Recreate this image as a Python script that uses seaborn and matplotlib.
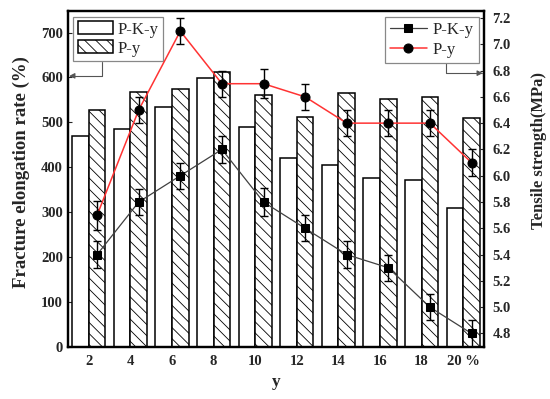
import matplotlib
matplotlib.use("Agg")
import matplotlib.pyplot as plt
import numpy as np
import pandas as pd
import seaborn as sns


Y_LABELS = ["2", "4", "6", "8", "10", "12", "14", "16", "18", "20 %"]
PKY_ELONG = [470, 485, 534, 598, 490, 420, 405, 377, 372, 309]
PY_ELONG = [528, 568, 575, 613, 560, 512, 565, 553, 556, 510]
PKY_TS = [5.4, 5.8, 6.0, 6.2, 5.8, 5.6, 5.4, 5.3, 5.0, 4.8]
PY_TS = [5.7, 6.5, 7.1, 6.7, 6.7, 6.6, 6.4, 6.4, 6.4, 6.1]
PKY_ERR = [0.10, 0.10, 0.10, 0.10, 0.11, 0.10, 0.10, 0.10, 0.10, 0.10]
PY_ERR = [0.11, 0.10, 0.10, 0.10, 0.11, 0.10, 0.10, 0.10, 0.10, 0.10]
SERIES = ["P-K-y", "P-y"]


def main() -> None:
    sns.set_style("white")
    plt.rcParams["font.family"] = ["Liberation Serif", "DejaVu Serif"]
    plt.rcParams["hatch.linewidth"] = 0.6

    bars = pd.DataFrame({
        "y": Y_LABELS * 2,
        "rate": PKY_ELONG + PY_ELONG,
        "series": [SERIES[0]] * len(Y_LABELS) + [SERIES[1]] * len(Y_LABELS),
    })

    fig, ax = plt.subplots(figsize=(5.5, 3.99), dpi=100)
    fig.subplots_adjust(left=0.1236, right=0.88, top=0.9724, bottom=0.1303)

    sns.barplot(data=bars, x="y", y="rate", hue="series",
                palette=["white", "white"], edgecolor="black", linewidth=1.1,
                width=0.8, ax=ax, legend=False)
    for patch in ax.containers[1]:
        patch.set_hatch("\\\\\\")
    ax.set_xlim(-0.5, 9.5)
    ax.set_ylim(0, 748)
    ax.set_yticks(np.arange(0, 701, 100))
    ax.set_xlabel("y", fontsize=12.5, fontweight="bold", labelpad=4)
    ax.set_ylabel("Fracture elongation rate (%)", fontsize=13.5, fontweight="bold")
    ax.yaxis.set_label_coords(-0.092, 0.52)
    ax.tick_params(axis="x", length=0, labelsize=10.5, pad=6)
    ax.tick_params(axis="y", direction="in", length=3, labelsize=10.5)
    for lab in ax.get_xticklabels() + ax.get_yticklabels():
        lab.set_fontweight("bold")

    leg1 = ax.legend(handles=list(ax.containers), labels=SERIES, loc="upper left",
                     bbox_to_anchor=(0.005, 0.992), fontsize=12, fancybox=False,
                     edgecolor="#888888", framealpha=1, handlelength=2.1,
                     handleheight=0.85, handletextpad=0.3, borderpad=0.25,
                     labelspacing=0.15, borderaxespad=0.2)
    leg1.get_frame().set_linewidth(0.9)

    ax2 = ax.twinx()
    pos = np.arange(len(Y_LABELS)) + 0.2
    sns.lineplot(x=pos, y=PKY_TS, color="#404040", linewidth=0.9, marker="s",
                 markersize=5.2, markerfacecolor="black", markeredgecolor="black",
                 label=SERIES[0], ax=ax2)
    sns.lineplot(x=pos, y=PY_TS, color="#ff3333", linewidth=1.1, marker="o",
                 markersize=6.5, markerfacecolor="black", markeredgecolor="black",
                 label=SERIES[1], ax=ax2)
    ax2.errorbar(pos, PKY_TS, yerr=PKY_ERR, fmt="none", ecolor="black",
                 elinewidth=1, capsize=3, capthick=1)
    ax2.errorbar(pos, PY_TS, yerr=PY_ERR, fmt="none", ecolor="black",
                 elinewidth=1, capsize=3, capthick=1)
    ax2.set_ylim(4.697, 7.253)
    ax2.set_yticks(np.round(np.arange(4.8, 7.21, 0.2), 1))
    ax2.set_yticklabels([f"{v:.1f}" for v in np.arange(4.8, 7.21, 0.2)])
    ax2.set_ylabel("Tensile strength(MPa)", fontsize=12, fontweight="bold")
    ax2.yaxis.set_label_coords(1.112, 0.585)
    ax2.tick_params(axis="y", direction="in", length=3, labelsize=10.5, pad=6)
    for lab in ax2.get_yticklabels():
        lab.set_fontweight("bold")

    handles, labels = ax2.get_legend_handles_labels()
    leg2 = ax2.legend(handles[:2], labels[:2], loc="upper right",
                      bbox_to_anchor=(0.995, 0.992), fontsize=12, fancybox=False,
                      edgecolor="#888888", framealpha=1, handlelength=2.2,
                      handletextpad=0.35, borderpad=0.3, labelspacing=0.25,
                      borderaxespad=0.2)
    leg2.get_frame().set_linewidth(0.9)

    for a in (ax, ax2):
        for spine in a.spines.values():
            spine.set_linewidth(1.6)
            spine.set_color("black")

    ax.annotate("", xy=(0.003, 0.807), xytext=(0.082, 0.848), xycoords="axes fraction",
                arrowprops=dict(arrowstyle="-|>", color="#555555", lw=0.8,
                                shrinkA=0, shrinkB=0, mutation_scale=8,
                                connectionstyle="angle,angleA=90,angleB=0,rad=0"))
    ax2.annotate("", xy=(0.997, 0.815), xytext=(0.909, 0.852), xycoords="axes fraction",
                 arrowprops=dict(arrowstyle="-|>", color="#555555", lw=0.8,
                                 shrinkA=0, shrinkB=0, mutation_scale=8,
                                 connectionstyle="angle,angleA=90,angleB=0,rad=0"))

    fig.savefig("out.png", dpi=100)
    plt.close(fig)


if __name__ == "__main__":
    main()
